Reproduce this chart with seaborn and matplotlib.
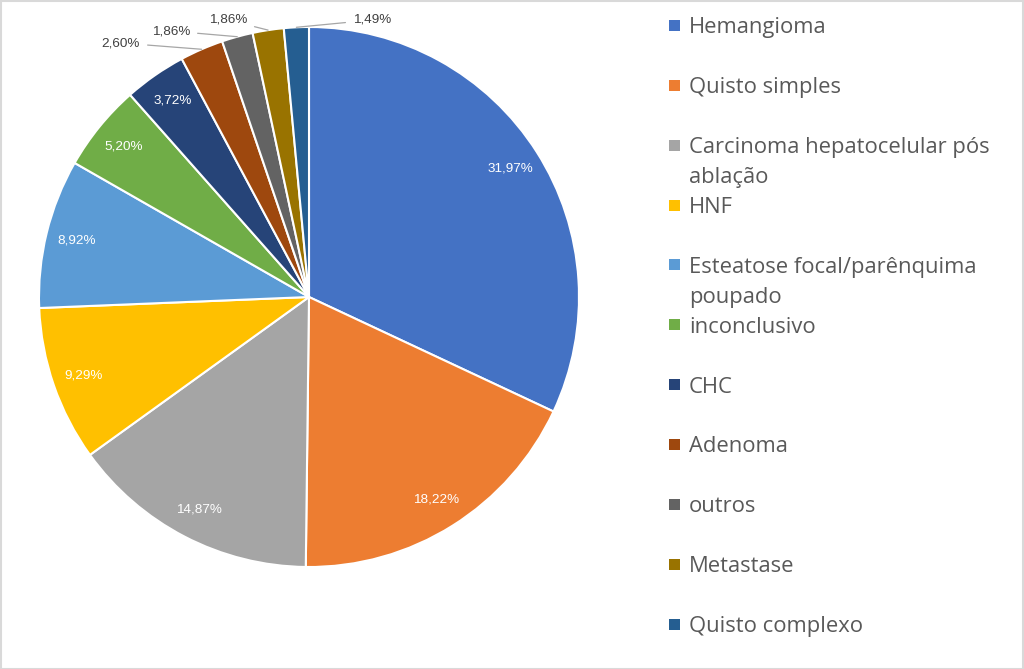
import numpy as np
import matplotlib
matplotlib.use("Agg")
import matplotlib.pyplot as plt
from matplotlib.patches import Rectangle
import seaborn as sns

categories = ["Hemangioma", "Quisto simples", "Carcinoma hepatocelular pós\nablação", "HNF",
              "Esteatose focal/parênquima\npoupado", "inconclusivo", "CHC", "Adenoma",
              "outros", "Metastase", "Quisto complexo"]
values = [31.97, 18.22, 14.87, 9.29, 8.92, 5.20, 3.72, 2.60, 1.86, 1.86, 1.49]
hex_colors = ["#4472C4", "#ED7D31", "#A5A5A5", "#FFC000", "#5B9BD5", "#70AD47",
              "#264478", "#9E480E", "#636363", "#997300", "#255E91"]

sns.set_theme(style="white")
plt.rcParams["font.family"] = ["Liberation Sans", "DejaVu Sans"]
colors = sns.color_palette(hex_colors)

W, H = 1024, 669
fig = plt.figure(figsize=(W / 100, H / 100), dpi=100)
cx, cy, R = 309, 297, 270
ax = fig.add_axes([(cx - R) / W, (H - cy - R) / H, 2 * R / W, 2 * R / H])
wedges, _ = ax.pie(values, colors=colors, startangle=90, counterclock=False, radius=1,
                   wedgeprops=dict(edgecolor="white", linewidth=1.5))
ax.set_xlim(-1, 1)
ax.set_ylim(-1, 1)
ax.axis("off")

def fmt(v):
    return f"{v:.2f}".replace(".", ",") + "%"

# inside labels
n_inside = 7
for i in range(n_inside):
    w = wedges[i]
    th = np.deg2rad((w.theta1 + w.theta2) / 2)
    r = 0.885
    ax.text(r * np.cos(th), r * np.sin(th), fmt(values[i]), color="white",
            ha="center", va="center", fontsize=9.7)

# outside labels with leader lines (text positions in px)
outside_pos = {7: (121, 43), 8: (171, 31), 9: (228, 20), 10: (372, 20)}
for i, (px, py) in outside_pos.items():
    w = wedges[i]
    th = np.deg2rad((w.theta1 + w.theta2) / 2)
    ax.annotate(fmt(values[i]), xy=(np.cos(th), np.sin(th)),
                xytext=((px - cx) / R, (cy - py) / R),
                ha="center", va="center", fontsize=9.7, color="#404040",
                annotation_clip=False,
                arrowprops=dict(arrowstyle="-", color="#a6a6a6", lw=0.9,
                                shrinkA=3, shrinkB=0))

# legend drawn manually (Excel style: fixed slot spacing)
y0, step = 25.5, 59.85
for i, (lab, col) in enumerate(zip(categories, colors)):
    yc = y0 + step * i
    fig.patches.append(Rectangle((669 / W, 1 - (yc + 5.5) / H), 11 / W, 11 / H,
                                 transform=fig.transFigure, facecolor=col,
                                 edgecolor="none"))
    for j, line in enumerate(lab.split("\n")):
        fig.text(689 / W, 1 - (yc + 8 + 30 * j) / H, line, fontsize=15.8,
                 family=["Open Sans", "DejaVu Sans"], color="#595959",
                 ha="left", va="baseline")

fig.patches.append(Rectangle((0.5 / W, 0.5 / H), 1 - 1.5 / W, 1 - 1.5 / H,
                             transform=fig.transFigure, fill=False,
                             edgecolor="#d9d9d9", linewidth=1.5))

fig.savefig("out.png", dpi=100, facecolor="white")
